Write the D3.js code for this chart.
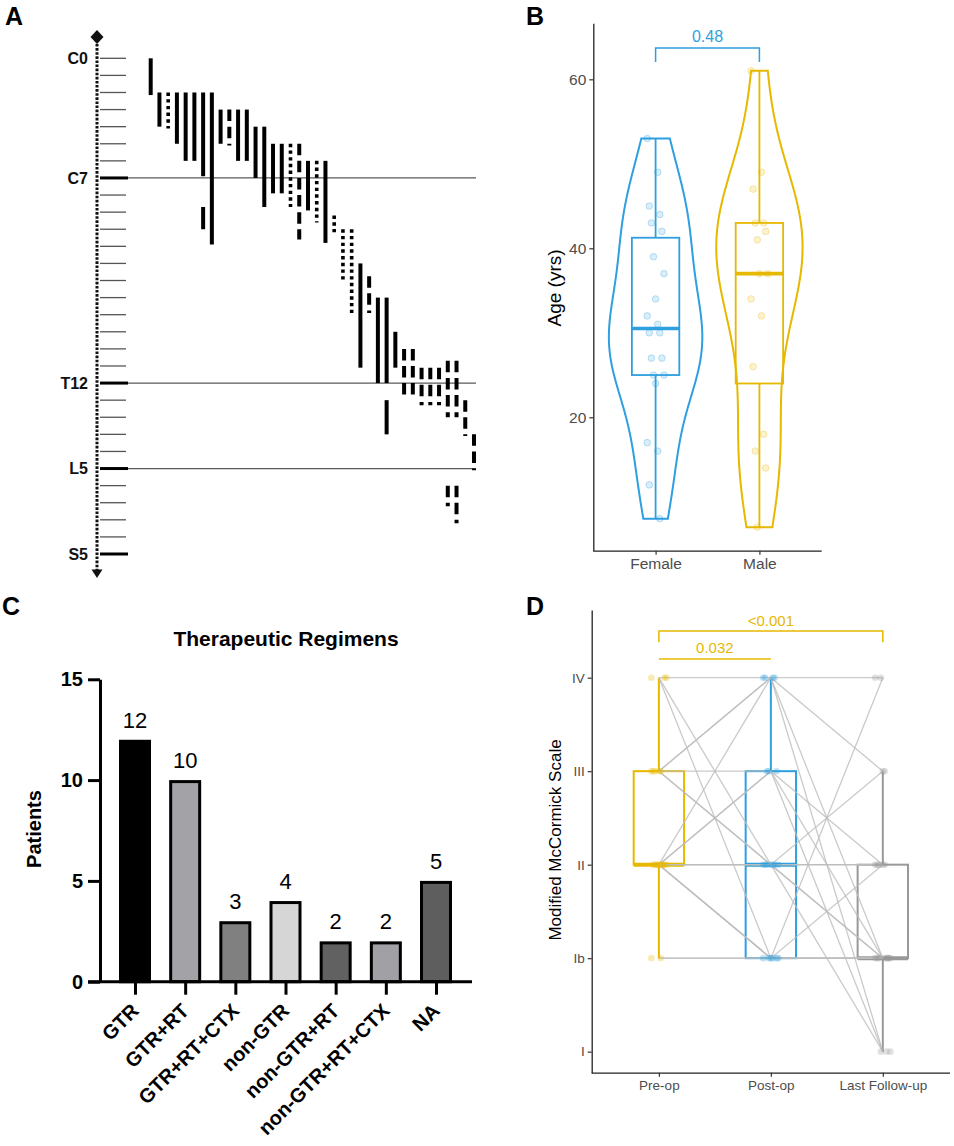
<!DOCTYPE html>
<html>
<head>
<meta charset="utf-8">
<script src="https://cdn.jsdelivr.net/npm/d3@7"></script>
<style>
body { margin: 0; background: #fff; }
svg { display: block; font-family: "Liberation Sans", Arial, sans-serif; }
</style>
</head>
<body>
<svg id="fig" width="954" height="1146"></svg>
<script>
/////////////// data ////////////////
// panel A: spinal levels (0 = C0 ... 29 = S5) and tumour extent per patient
const SPINE_LABELS = ["C0", "C7", "T12", "L5", "S5"];
const SPINE_LABEL_LEVELS = [0, 7, 19, 24, 29];
const SPINE_MAJOR = [7, 19, 24, 29];
const NUM_PATIENTS_A = 38;
// one entry per drawn segment (some patients have two)
const segPatient = [0, 1, 2, 3, 4, 5, 6, 6, 7, 8, 9, 10, 11, 12, 13, 14, 15, 16, 17, 18, 19, 20, 21,
    22, 23, 24, 25, 26, 27, 27, 28, 29, 30, 31, 32, 33, 34, 34, 35, 35, 36, 37];
const segTop = [0, 2, 2, 2, 2, 2, 2, 8.7, 2, 3, 3, 3, 3, 4, 4, 5, 5, 5, 5, 6, 6, 6, 9.2,
    10, 10, 12, 12.75, 14, 14, 20, 16, 17, 17, 18.1, 18.1, 18.1, 17.7, 25, 17.7, 25, 20, 22];
const segBottom = [2.15, 4, 4.1, 5, 6, 6, 6.9, 10, 10.9, 5, 5.1, 6, 6, 7, 8.7, 7.9, 7.9, 8.7, 10.6, 8.9, 9.6, 10.8, 10.2,
    13, 15, 18.1, 14.9, 19, 19, 22, 18.1, 20, 20, 20.3, 20.3, 20.3, 21, 26.2, 21, 27.2, 22.1, 24.1];
// s = solid, o = dotted, d = dashed
const segStyle = ["s", "s", "o", "s", "s", "s", "s", "s", "s", "s", "d", "s", "s", "s", "s", "s", "s", "o", "d", "s", "o", "s", "o",
    "o", "o", "s", "d", "s", "s", "s", "s", "d", "d", "d", "d", "d", "d", "d", "d", "d", "d", "d"];

// panel B: age by sex
const SEXES = ["Female", "Male"];
const femaleAge = [53, 49, 45, 44, 43, 42, 39, 37, 34, 32, 31, 30, 30, 27, 27, 25, 25, 24, 17, 16, 12, 8];
const maleAge = [61, 49, 47, 43, 43, 42, 41, 37, 37, 34, 32, 26, 18, 16, 14, 7];
const AGE_TICKS = [20, 40, 60];
const AGE_P = "0.48";

// panel C: therapeutic regimens
const REGIMENS = ["GTR", "GTR+RT", "GTR+RT+CTX", "non-GTR", "non-GTR+RT", "non-GTR+RT+CTX", "NA"];
const REGIMEN_N = [12, 10, 3, 4, 2, 2, 5];
const REGIMEN_FILL = ["#000000", "#a2a2a7", "#808080", "#d6d6d6", "#616161", "#a0a0a5", "#5e5e5e"];
const PATIENT_TICKS = [0, 5, 10, 15];

// panel D: modified McCormick scale (1 = I, 2 = Ib, 3 = II, 4 = III, 5 = IV)
const MC_LABELS = ["I", "Ib", "II", "III", "IV"];
const TIMEPOINTS = ["Pre-op", "Post-op", "Last Follow-up"];
const preOp = [5, 4, 4, 3, 4, 3, 3, 5, 4, 4, 3, 3, 3, 3, 5, 3, 3, 3, 2, 2];
const postOp = [5, 5, 5, 5, 4, 4, 4, 3, 3, 3, 3, 3, 3, 3, 2, 2, 2, 2, 2, 2];
const lastFU = [5, 4, 2, 1, 3, 2, 1, 1, 4, 3, 3, 3, 2, 2, 2, 5, 2, 3, 2, 2];
const MC_P = ["0.032", "<0.001"];

/////////////// common ////////////////
const BLUE = "#2E9FDF";
const YELLOW = "#E7B800";
const GREY = "#999999";
const TXT_GREY = "#4d4d4d";
const SVG = d3.select("#fig");

SVG.selectAll("text.panel")
    .data([["A", 5, 25], ["B", 526, 25], ["C", 2, 615], ["D", 526, 615]])
    .enter()
    .append("text")
    .attr("class", "panel")
    .attr("x", d => d[1])
    .attr("y", d => d[2])
    .attr("font-size", 25)
    .attr("font-weight", "bold")
    .text(d => d[0]);

// box statistics like ggplot2 (type 7 quantiles, 1.5 IQR whiskers)
function boxStats(values) {
    const s = values.slice().sort(d3.ascending);
    const q1 = d3.quantile(s, 0.25), med = d3.quantile(s, 0.5), q3 = d3.quantile(s, 0.75);
    const iqr = q3 - q1;
    const lo = d3.min(s.filter(v => v >= q1 - 1.5 * iqr));
    const hi = d3.max(s.filter(v => v <= q3 + 1.5 * iqr));
    return { q1, med, q3, lo, hi };
}
function drawBox(g, cx, w, st, y, color, lw) {
    g.append("line").attr("x1", cx).attr("x2", cx).attr("y1", y(st.q3)).attr("y2", y(st.hi))
        .attr("stroke", color).attr("stroke-width", lw);
    g.append("line").attr("x1", cx).attr("x2", cx).attr("y1", y(st.q1)).attr("y2", y(st.lo))
        .attr("stroke", color).attr("stroke-width", lw);
    g.append("rect").attr("x", cx - w / 2).attr("width", w)
        .attr("y", y(st.q3)).attr("height", y(st.q1) - y(st.q3))
        .attr("fill", "none").attr("stroke", color).attr("stroke-width", lw);
    g.append("line").attr("x1", cx - w / 2).attr("x2", cx + w / 2).attr("y1", y(st.med)).attr("y2", y(st.med))
        .attr("stroke", color).attr("stroke-width", lw * 2);
}
// deterministic small horizontal spread for the dots
const jitter = i => ((i * 5) % 9 - 4) * 2.1;

/////////////// panel A : spine ////////////////
const A_GRP = SVG.append("g").attr("id", "panelA");
const xA = d3.scalePoint().domain(d3.range(NUM_PATIENTS_A)).range([150.7, 474]);
const yA = d3.scaleLinear().domain([0, 29]).range([58.3, 554]);
const AX_X = 97;

A_GRP.append("line")
    .attr("x1", AX_X).attr("x2", AX_X).attr("y1", 44).attr("y2", 571)
    .attr("stroke", "#111").attr("stroke-width", 3).attr("stroke-dasharray", "2.6,1.5");
A_GRP.append("path")
    .attr("d", `M${AX_X},30 L${AX_X + 6.5},37 L${AX_X},44 L${AX_X - 6.5},37 Z`)
    .attr("fill", "#111");
A_GRP.append("path")
    .attr("d", `M${AX_X - 5.5},569.5 L${AX_X + 5.5},569.5 L${AX_X},578 Z`)
    .attr("fill", "#111");
// vertebra ticks
A_GRP.selectAll("line.tick")
    .data(d3.range(0, 30))
    .enter()
    .append("line")
    .attr("class", "tick")
    .attr("x1", 100)
    .attr("x2", d => SPINE_MAJOR.includes(d) ? 128 : 126)
    .attr("y1", d => yA(d)).attr("y2", d => yA(d))
    .attr("stroke", d => SPINE_MAJOR.includes(d) ? "#000" : "#555")
    .attr("stroke-width", d => SPINE_MAJOR.includes(d) ? 3 : 1.3);
// reference lines at C7, T12, L5
A_GRP.selectAll("line.ref")
    .data(SPINE_MAJOR.slice(0, 3))
    .enter()
    .append("line")
    .attr("class", "ref")
    .attr("x1", 128).attr("x2", 476)
    .attr("y1", d => yA(d)).attr("y2", d => yA(d))
    .attr("stroke", "#5a5a5a").attr("stroke-width", 1.2);
A_GRP.selectAll("text.lvl")
    .data(SPINE_LABELS)
    .enter()
    .append("text")
    .attr("class", "lvl")
    .attr("x", 88)
    .attr("y", (d, i) => yA(SPINE_LABEL_LEVELS[i]))
    .attr("dy", "0.36em")
    .attr("text-anchor", "end")
    .attr("font-size", 16)
    .attr("font-weight", "bold")
    .attr("fill", "#111")
    .text(d => d);
// tumour segments
const SEG_STYLE = {
    s: { w: 4, dash: null },
    o: { w: 3.6, dash: "3.4,3.3" },
    d: { w: 4, dash: "11.5,5.6" }
};
A_GRP.selectAll("line.seg")
    .data(d3.range(segPatient.length))
    .enter()
    .append("line")
    .attr("class", "seg")
    .attr("x1", i => xA(segPatient[i])).attr("x2", i => xA(segPatient[i]))
    .attr("y1", i => yA(segTop[i])).attr("y2", i => yA(segBottom[i]))
    .attr("stroke", "#000")
    .attr("stroke-width", i => SEG_STYLE[segStyle[i]].w)
    .attr("stroke-dasharray", i => SEG_STYLE[segStyle[i]].dash);

/////////////// panel B : age violins ////////////////
const B_GRP = SVG.append("g").attr("id", "panelB");
const xB = d3.scalePoint().domain(SEXES).range([593.3, 821.7]).padding(0.6);
const yB = d3.scaleLinear().domain([4.21, 66.63]).range([550.7, 23.3]);
const stepB = xB.step();
const AGE_DATA = [femaleAge, maleAge];
const AGE_COL = [BLUE, YELLOW];

function bwNrd0(v) {
    const s = v.slice().sort(d3.ascending);
    const iqr = d3.quantile(s, 0.75) - d3.quantile(s, 0.25);
    return 0.9 * Math.min(d3.deviation(v), iqr / 1.34) * Math.pow(v.length, -0.2);
}
function kde(v) {
    const bw = bwNrd0(v);
    const lo = d3.min(v), hi = d3.max(v);
    return d3.range(121).map(k => {
        const t = lo + (hi - lo) * k / 120;
        return [t, d3.mean(v, x => Math.exp(-0.5 * ((t - x) / bw) ** 2) / (bw * Math.sqrt(2 * Math.PI)))];
    });
}
const dens = AGE_DATA.map(kde);
const maxDens = d3.max(dens, d => d3.max(d, p => p[1]));
const SCL_DENS = d3.scaleLinear().domain([0, maxDens]).range([0, 0.9 * stepB / 2]);

SEXES.forEach((sex, gi) => {
    const cx = xB(sex);
    const area = d3.area()
        .y(p => yB(p[0]))
        .x0(p => cx - SCL_DENS(p[1]))
        .x1(p => cx + SCL_DENS(p[1]));
    B_GRP.append("path")
        .attr("d", area(dens[gi]) + "Z")
        .attr("fill", "none")
        .attr("stroke", AGE_COL[gi])
        .attr("stroke-width", 2);
    drawBox(B_GRP, cx, 0.457 * stepB, boxStats(AGE_DATA[gi]), yB, AGE_COL[gi], 1.8);
    B_GRP.selectAll(null)
        .data(AGE_DATA[gi])
        .enter()
        .append("circle")
        .attr("cx", (d, i) => cx + jitter(i))
        .attr("cy", d => yB(d))
        .attr("r", 3.3)
        .attr("fill", AGE_COL[gi]).attr("fill-opacity", 0.18)
        .attr("stroke", AGE_COL[gi]).attr("stroke-opacity", 0.3);
});
// axes
const B_AX_L = B_GRP.append("g")
    .attr("transform", "translate(593.3,0)")
    .call(d3.axisLeft(yB).tickValues(AGE_TICKS).tickSize(4).tickSizeOuter(0).tickPadding(3));
const B_AX_B = B_GRP.append("g")
    .attr("transform", "translate(0,550.7)")
    .call(d3.axisBottom(xB).tickSize(4).tickSizeOuter(0).tickPadding(3));
[B_AX_L, B_AX_B].forEach(ax => {
    ax.select(".domain").attr("stroke", "#222").attr("stroke-width", 1.3);
    ax.selectAll(".tick line").attr("stroke", "#333").attr("stroke-width", 1.2);
    ax.selectAll(".tick text").attr("font-size", 15.5).attr("fill", TXT_GREY).attr("font-family", null);
});
B_AX_B.select(".domain").attr("d", "M593.3,0.5H821.7");
B_GRP.append("text")
    .attr("transform", "translate(561,288) rotate(-90)")
    .attr("text-anchor", "middle")
    .attr("font-size", 19)
    .text("Age (yrs)");
// comparison bracket
const BR_Y = yB(63.7), BR_LEG = yB(62.05);
B_GRP.append("path")
    .attr("d", `M${xB("Female")},${BR_LEG}V${BR_Y}H${xB("Male")}V${BR_LEG}`)
    .attr("fill", "none").attr("stroke", BLUE).attr("stroke-width", 1.5);
B_GRP.append("text")
    .attr("x", (xB("Female") + xB("Male")) / 2).attr("y", BR_Y - 6)
    .attr("text-anchor", "middle")
    .attr("font-size", 16)
    .attr("fill", BLUE)
    .text(AGE_P);

/////////////// panel C : regimens ////////////////
const C_GRP = SVG.append("g").attr("id", "panelC");
const xC = d3.scalePoint().domain(REGIMENS).range([135, 436]);
const yC = d3.scaleLinear().domain([0, 15]).range([981.7, 679.3]);
const BAR_W = 32;

C_GRP.append("text")
    .attr("x", 286).attr("y", 646)
    .attr("text-anchor", "middle")
    .attr("font-size", 21).attr("font-weight", "bold")
    .text("Therapeutic Regimens");
C_GRP.selectAll("rect.bar")
    .data(REGIMENS)
    .enter()
    .append("rect")
    .attr("class", "bar")
    .attr("x", d => xC(d) - BAR_W / 2 + 1.5)
    .attr("width", BAR_W - 3)
    .attr("y", (d, i) => yC(REGIMEN_N[i]) + 1.5)
    .attr("height", (d, i) => yC(0) - yC(REGIMEN_N[i]) - 1.5)
    .attr("fill", (d, i) => REGIMEN_FILL[i])
    .attr("stroke", "#000")
    .attr("stroke-width", 3);
C_GRP.selectAll("text.val")
    .data(REGIMENS)
    .enter()
    .append("text")
    .attr("class", "val")
    .attr("x", d => xC(d))
    .attr("y", (d, i) => yC(REGIMEN_N[i]) - 12)
    .attr("text-anchor", "middle")
    .attr("font-size", 22)
    .text((d, i) => REGIMEN_N[i]);
const C_AX_L = C_GRP.append("g")
    .attr("transform", "translate(100,0)")
    .call(d3.axisLeft(yC).tickValues(PATIENT_TICKS).tickSize(12).tickSizeOuter(0).tickPadding(5));
C_AX_L.select(".domain").attr("stroke-width", 3);
C_AX_L.selectAll(".tick line").attr("stroke-width", 3);
C_AX_L.selectAll(".tick text").attr("font-size", 20).attr("font-weight", "bold").attr("font-family", null);
const C_AX_B = C_GRP.append("g")
    .attr("transform", `translate(0,${yC(0)})`)
    .call(d3.axisBottom(xC).tickSize(13).tickSizeOuter(0).tickFormat(""));
C_AX_B.select(".domain").attr("d", "M88,0H472").attr("stroke-width", 3);
C_AX_B.selectAll(".tick line").attr("stroke-width", 3);
C_GRP.selectAll("text.cat")
    .data(REGIMENS)
    .enter()
    .append("text")
    .attr("class", "cat")
    .attr("transform", d => `translate(${xC(d) + 5},1012) rotate(-45)`)
    .attr("text-anchor", "end")
    .attr("font-size", 20).attr("font-weight", "bold")
    .text(d => d);
C_GRP.append("text")
    .attr("transform", "translate(41,829) rotate(-90)")
    .attr("text-anchor", "middle")
    .attr("font-size", 20).attr("font-weight", "bold")
    .text("Patients");

/////////////// panel D : McCormick ////////////////
const D_GRP = SVG.append("g").attr("id", "panelD");
const xD = d3.scalePoint().domain(TIMEPOINTS).range([591.7, 950]).padding(0.6);
const yD = d3.scaleLinear().domain([0.775, 5.724]).range([1072.7, 610]);
const stepD = xD.step();
const MC_DATA = [preOp, postOp, lastFU];
const MC_COL = [YELLOW, BLUE, GREY];

TIMEPOINTS.forEach((t, gi) => {
    drawBox(D_GRP, xD(t), 0.45 * stepD, boxStats(MC_DATA[gi]), yD, MC_COL[gi], 2);
});
// patient trajectories
const LINE_MC = d3.line().x(d => xD(d[0])).y(d => yD(d[1]));
D_GRP.selectAll("path.traj")
    .data(d3.range(preOp.length))
    .enter()
    .append("path")
    .attr("class", "traj")
    .attr("d", i => LINE_MC(TIMEPOINTS.map((t, gi) => [t, MC_DATA[gi][i]])))
    .attr("fill", "none")
    .attr("stroke", "#bdbdbd")
    .attr("stroke-opacity", 0.8)
    .attr("stroke-width", 1.3);
TIMEPOINTS.forEach((t, gi) => {
    D_GRP.selectAll(null)
        .data(MC_DATA[gi])
        .enter()
        .append("circle")
        .attr("cx", (d, i) => xD(t) + jitter(i) * 0.9)
        .attr("cy", d => yD(d))
        .attr("r", 3.3)
        .attr("fill", MC_COL[gi]).attr("fill-opacity", 0.3)
        .attr("stroke", "none");
});
const D_AX_L = D_GRP.append("g")
    .attr("transform", "translate(591.7,0)")
    .call(d3.axisLeft(yD).tickValues([1, 2, 3, 4, 5]).tickFormat(d => MC_LABELS[d - 1])
        .tickSize(4).tickSizeOuter(0).tickPadding(3));
const D_AX_B = D_GRP.append("g")
    .attr("transform", "translate(0,1072.7)")
    .call(d3.axisBottom(xD).tickSize(4).tickSizeOuter(0).tickPadding(4));
[D_AX_L, D_AX_B].forEach(ax => {
    ax.select(".domain").attr("stroke", "#222").attr("stroke-width", 1.3);
    ax.selectAll(".tick line").attr("stroke", "#333").attr("stroke-width", 1.2);
    ax.selectAll(".tick text").attr("font-size", 13.5).attr("fill", TXT_GREY).attr("font-family", null);
});
D_AX_B.select(".domain").attr("d", "M591.7,0.5H950");
D_GRP.append("text")
    .attr("transform", "translate(561,840) rotate(-90)")
    .attr("text-anchor", "middle")
    .attr("font-size", 17)
    .text("Modified McCormick Scale");
// comparison brackets
const B1_Y = yD(5.2), B2_Y = yD(5.5), B2_LEG = yD(5.38);
D_GRP.append("path")
    .attr("d", `M${xD("Pre-op")},${B1_Y}H${xD("Post-op")}`)
    .attr("fill", "none").attr("stroke", YELLOW).attr("stroke-width", 1.5);
D_GRP.append("path")
    .attr("d", `M${xD("Pre-op")},${B2_LEG}V${B2_Y}H${xD("Last Follow-up")}V${B2_LEG}`)
    .attr("fill", "none").attr("stroke", YELLOW).attr("stroke-width", 1.5);
D_GRP.append("text")
    .attr("x", (xD("Pre-op") + xD("Post-op")) / 2).attr("y", B1_Y - 6)
    .attr("text-anchor", "middle").attr("font-size", 15).attr("fill", YELLOW)
    .text(MC_P[0]);
D_GRP.append("text")
    .attr("x", xD("Post-op")).attr("y", B2_Y - 5)
    .attr("text-anchor", "middle").attr("font-size", 15).attr("fill", YELLOW)
    .text(MC_P[1]);
</script>
</body>
</html>
